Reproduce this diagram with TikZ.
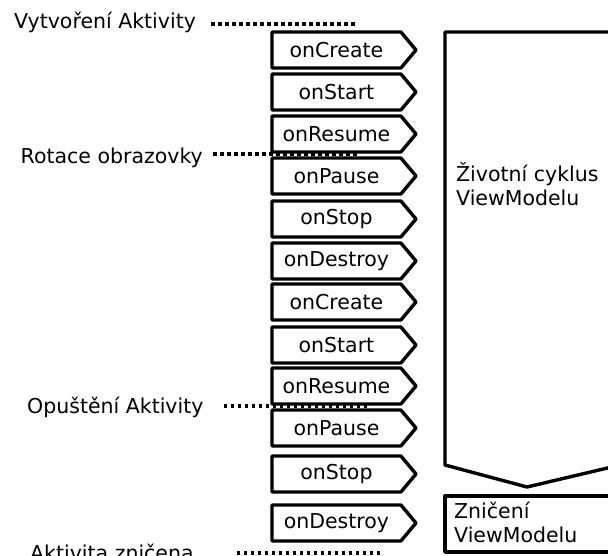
\documentclass[tikz,border=0pt]{standalone}
\usepackage{fontspec}
\setmainfont{DejaVu Sans}
\usetikzlibrary{shapes.symbols}
\newcommand{\lblfont}{\fontsize{20.5}{24}\selectfont}
\begin{document}
\begin{tikzpicture}[x=1pt,y=-1pt,
  outline/.style={draw, line width=3.4pt, line join=round},
  callback/.style={outline, fill=white, signal, signal to=east,
    signal pointer angle=100, minimum width=144pt, minimum height=36pt,
    inner sep=0pt, outer sep=0pt, font=\lblfont, anchor=west},
  evt/.style={font=\lblfont, inner sep=0pt, anchor=base west},
  phase/.style={font=\lblfont, inner sep=0pt, anchor=base west, align=left},
  evline/.style={line width=3.2pt, dash pattern=on 3.5pt off 3.5pt}
]
\useasboundingbox (0,0) rectangle (608,555);
\clip (0,0) rectangle (608,555);

% ViewModel scope and its end
\draw[outline] (445,32) -- (616,32) -- (616,466) -- (527,487) -- (445,465) -- cycle;
\draw[outline] (445,496) rectangle (616,552);
\node[phase] (life) at (456,205) {Životní cyklus\\ViewModelu};
\node[phase] (gone) at (454,542) {Zničení\\ViewModelu};

% Activity callbacks
\node[callback] (c1)  at (272,50)  {onCreate};
\node[callback] (c2)  at (272,92)  {onStart};
\node[callback] (c3)  at (272,134) {onResume};
\node[callback] (c4)  at (272,176) {onPause};
\node[callback] (c5)  at (272,219) {onStop};
\node[callback] (c6)  at (272,261) {onDestroy};
\node[callback] (c7)  at (272,302) {onCreate};
\node[callback] (c8)  at (272,345) {onStart};
\node[callback] (c9)  at (272,386) {onResume};
\node[callback] (c10) at (272,428) {onPause};
\node[callback] (c11) at (272,474) {onStop};
\node[callback] (c12) at (272,523) {onDestroy};

% Activity events
\node[evt] (create) at (14,28)  {Vytvoření Aktivity};
\node[evt] (rotate) at (20.5,163) {Rotace obrazovky};
\node[evt] (leave)  at (27,413) {Opuštění Aktivity};
\node[evt] (killed) at (30,560) {Aktivita zničena};

\coordinate (createEnd) at (358,24);
\coordinate (rotateEnd) at (360,154);
\coordinate (leaveEnd)  at (370,406);
\coordinate (killedEnd) at (382,553);

\draw[evline] ([xshift=15pt]create.east |- createEnd) -- (createEnd);
\draw[evline] ([xshift=10pt]rotate.east |- rotateEnd) -- (rotateEnd);
\draw[evline] ([xshift=20pt]leave.east |- leaveEnd) -- (leaveEnd);
\draw[evline] ([xshift=43pt]killed.east |- killedEnd) -- (killedEnd);
\end{tikzpicture}
\end{document}
